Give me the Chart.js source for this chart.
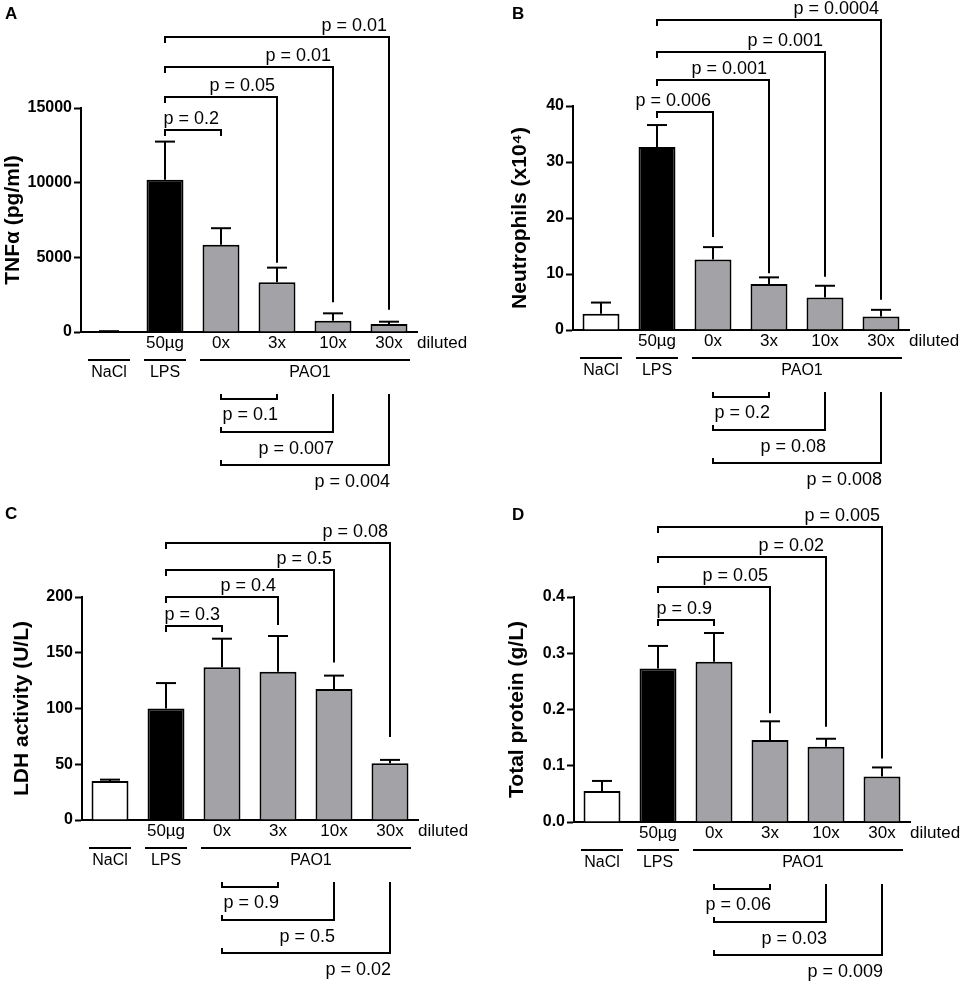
<!DOCTYPE html>
<html>
<head>
<meta charset="utf-8">
<script src="https://cdn.jsdelivr.net/npm/chart.js@4.4.1/dist/chart.umd.min.js"></script>
<style>
  body { margin: 0; background: #fff; width: 961px; height: 983px; position: relative; overflow: hidden; }
  .panel { position: absolute; }
</style>
</head>
<body>
<div class="panel" style="left:0;top:0"><canvas id="chartA" width="480" height="490"></canvas></div>
<div class="panel" style="left:480px;top:0"><canvas id="chartB" width="481" height="490"></canvas></div>
<div class="panel" style="left:0;top:490px"><canvas id="chartC" width="480" height="493"></canvas></div>
<div class="panel" style="left:480px;top:490px"><canvas id="chartD" width="481" height="493"></canvas></div>
<script>
// categories (NaCl has no label on the first row)
const xLabels = ['', '50µg', '0x', '3x', '10x', '30x'];
const groupNames = ['NaCl', 'LPS', 'PAO1'];
const groupSpans = [[0, 0], [1, 1], [2, 5]];

// A - TNFa
const tnfMean = [40, 10200, 5850, 3330, 760, 530];
const tnfSem = [15, 2550, 1100, 980, 490, 160];
const tnfTicks = [0, 5000, 10000, 15000];
const tnfTopP = ['p = 0.2', 'p = 0.05', 'p = 0.01', 'p = 0.01'];
const tnfBottomP = ['p = 0.1', 'p = 0.007', 'p = 0.004'];

// B - neutrophils
const neuMean = [2.9, 32.7, 12.6, 8.2, 5.8, 2.4];
const neuSem = [2.0, 3.9, 2.2, 1.2, 2.1, 1.2];
const neuTicks = [0, 10, 20, 30, 40];
const neuTopP = ['p = 0.006', 'p = 0.001', 'p = 0.001', 'p = 0.0004'];
const neuBottomP = ['p = 0.2', 'p = 0.08', 'p = 0.008'];

// C - LDH
const ldhMean = [35, 100, 137, 133, 117.5, 51];
const ldhSem = [1.2, 22.8, 25.6, 32, 12, 2.9];
const ldhTicks = [0, 50, 100, 150, 200];
const ldhTopP = ['p = 0.3', 'p = 0.4', 'p = 0.5', 'p = 0.08'];
const ldhBottomP = ['p = 0.9', 'p = 0.5', 'p = 0.02'];

// D - total protein
const protMean = [0.055, 0.273, 0.285, 0.146, 0.134, 0.081];
const protSem = [0.018, 0.040, 0.051, 0.033, 0.014, 0.016];
const protTicks = [0, 0.1, 0.2, 0.3, 0.4];
const protTopP = ['p = 0.9', 'p = 0.05', 'p = 0.02', 'p = 0.005'];
const protBottomP = ['p = 0.06', 'p = 0.03', 'p = 0.009'];

const GREY = '#a3a2a7';
const barFill = ['#ffffff', '#000000', GREY, GREY, GREY, GREY];
const FONT = '"Liberation Sans", Arial, Helvetica, sans-serif';

Chart.defaults.font.family = FONT;
Chart.defaults.color = '#000';

// small helper, draws a path of points
function path(ctx, pts) {
  ctx.beginPath();
  ctx.moveTo(pts[0][0], pts[0][1]);
  for (let i = 1; i < pts.length; i++) ctx.lineTo(pts[i][0], pts[i][1]);
  ctx.stroke();
}

function annotPlugin(p) {
  return {
    id: 'annot' + p.letter,
    afterDatasetsDraw(chart) {
      // error bars (upper only)
      const ctx = chart.ctx, ys = chart.scales.y;
      const bars = chart.getDatasetMeta(0).data;
      ctx.save();
      ctx.strokeStyle = '#000';
      ctx.lineWidth = 2;
      bars.forEach((b, i) => {
        const top = ys.getPixelForValue(p.mean[i] + p.sem[i]);
        path(ctx, [[b.x, b.y], [b.x, top]]);
        path(ctx, [[b.x - 10, top], [b.x + 10, top]]);
      });
      ctx.restore();
    },
    afterDraw(chart) {
      const ctx = chart.ctx, xs = chart.scales.x, ys = chart.scales.y;
      const area = chart.chartArea;
      const L = p.lay;
      ctx.save();
      ctx.strokeStyle = '#000';
      ctx.fillStyle = '#000';
      ctx.lineWidth = 2;
      ctx.textBaseline = 'middle';

      // panel letter
      ctx.font = 'bold 17px ' + FONT;
      ctx.textAlign = 'left';
      ctx.fillText(p.letter, L.letter[0], L.letter[1]);

      // "diluted"
      ctx.font = '17px ' + FONT;
      ctx.fillText('diluted', area.right, area.bottom + 11);

      // group lines and names
      ctx.font = '16px ' + FONT;
      ctx.textAlign = 'center';
      groupSpans.forEach((s, g) => {
        const a = xs.getPixelForValue(s[0]) - 21;
        const b = xs.getPixelForValue(s[1]) + 21;
        path(ctx, [[a, area.bottom + 28], [b, area.bottom + 28]]);
        ctx.fillText(groupNames[g], (a + b) / 2 + (s[1] > s[0] ? 5 : 0), area.bottom + 41);
      });

      // brackets above: LPS vs each PAO1 dilution
      ctx.font = '18px ' + FONT;
      ctx.textAlign = 'right';
      const x0 = xs.getPixelForValue(1);
      p.topP.forEach((txt, k) => {
        const idx = k + 2;
        const lvl = area.top + L.topLevels[k];
        const x1 = xs.getPixelForValue(idx);
        const errTop = ys.getPixelForValue(p.mean[idx] + p.sem[idx]);
        const legEnd = L.legGaps[k] === null ? lvl + 6 : errTop - L.legGaps[k];
        path(ctx, [[x0, lvl + 6], [x0, lvl], [x1, lvl], [x1, legEnd]]);
        ctx.fillText(txt, x1 - 2, lvl - 11);
      });

      // brackets below: 0x vs 3x, 10x, 30x
      const b0 = xs.getPixelForValue(2);
      const bLines = [67, 100, 133];
      const bLabels = [83, 117, 150];
      p.bottomP.forEach((txt, k) => {
        const x1 = xs.getPixelForValue(k + 3);
        const ly = area.bottom + bLines[k];
        if (k === 0) {
          path(ctx, [[b0, ly - 5], [b0, ly], [x1, ly], [x1, ly - 5]]);
        } else {
          path(ctx, [[b0, ly - 5], [b0, ly], [x1, ly], [x1, area.bottom + 62]]);
        }
        ctx.fillText(txt, x1 + 1, area.bottom + bLabels[k]);
      });
      ctx.restore();
    }
  };
}

function makeChart(id, p) {
  const L = p.lay;
  return new Chart(document.getElementById(id), {
    type: 'bar',
    data: {
      labels: xLabels,
      datasets: [{
        data: p.mean,
        backgroundColor: barFill,
        borderColor: '#000',
        borderWidth: 2,
        borderSkipped: 'start',
        categoryPercentage: 1,
        barPercentage: 0.66
      }]
    },
    options: {
      responsive: false,
      animation: false,
      devicePixelRatio: 1,
      layout: { padding: { left: L.padLeft, right: L.padRight, top: L.padTop, bottom: 0 } },
      plugins: { legend: { display: false }, tooltip: { enabled: false } },
      scales: {
        x: {
          grid: { display: false, drawTicks: false },
          border: { display: true, color: '#000', width: 2 },
          ticks: { font: { size: 17 }, padding: 1, color: '#000', maxRotation: 0, autoSkip: false },
          afterFit(s) { s.height = L.xHeight; }
        },
        y: {
          min: 0,
          max: p.ticks[p.ticks.length - 1],
          afterBuildTicks(s) { s.ticks = p.ticks.map(v => ({ value: v })); },
          grid: { drawOnChartArea: false, drawTicks: true, tickLength: 7, tickWidth: 2, tickColor: '#000' },
          border: { display: true, color: '#000', width: 2 },
          ticks: {
            font: { size: 16, weight: 'bold' },
            padding: 2,
            color: '#000',
            callback: v => p.decimals ? Number(v).toFixed(p.decimals) : String(v)
          },
          title: {
            display: true,
            text: p.title,
            font: { size: 21, weight: 'bold' },
            color: '#000',
            padding: { top: 1, bottom: 0 }
          },
          afterFit(s) { s.width = L.yWidth; }
        }
      }
    },
    plugins: [annotPlugin(p)]
  });
}

makeChart('chartA', {
  letter: 'A', title: 'TNFα (pg/ml)', mean: tnfMean, sem: tnfSem, ticks: tnfTicks, decimals: 0,
  topP: tnfTopP, bottomP: tnfBottomP,
  lay: { padLeft: 0, yWidth: 81, padRight: 63, padTop: 108, xHeight: 158,
         topLevels: [22, -11, -41, -71], legGaps: [null, 5, 11, 12], letter: [5, 14] }
});
makeChart('chartB', {
  letter: 'B', title: 'Neutrophils (x10⁴)', mean: neuMean, sem: neuSem, ticks: neuTicks, decimals: 0,
  topP: neuTopP, bottomP: neuBottomP,
  lay: { padLeft: 27, yWidth: 66, padRight: 52, padTop: 106, xHeight: 160,
         topLevels: [6, -26, -54, -86], legGaps: [10, 4, 9, 10], letter: [32, 14] }
});
makeChart('chartC', {
  letter: 'C', title: 'LDH activity (U/L)', mean: ldhMean, sem: ldhSem, ticks: ldhTicks, decimals: 0,
  topP: ldhTopP, bottomP: ldhBottomP,
  lay: { padLeft: 9, yWidth: 73, padRight: 62, padTop: 107, xHeight: 163,
         topLevels: [29, 0, -27, -54], legGaps: [null, 11, 13, 23], letter: [5, 24] }
});
makeChart('chartD', {
  letter: 'D', title: 'Total protein (g/L)', mean: protMean, sem: protSem, ticks: protTicks, decimals: 1,
  topP: protTopP, bottomP: protBottomP,
  lay: { padLeft: 24, yWidth: 70, padRight: 51, padTop: 107, xHeight: 161,
         topLevels: [23, -10, -40, -70], legGaps: [null, 8, 12, 9], letter: [32, 25] }
});
</script>
</body>
</html>
